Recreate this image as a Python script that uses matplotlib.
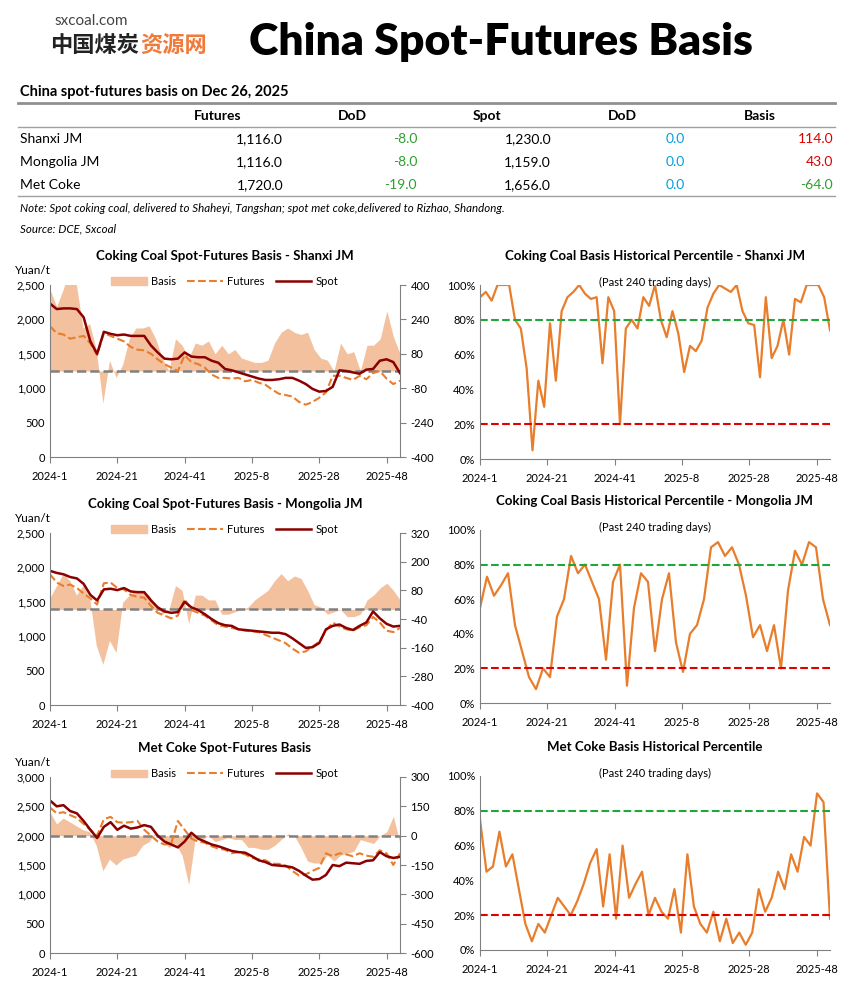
import numpy as np
import matplotlib
matplotlib.use("Agg")
import matplotlib.pyplot as plt
from matplotlib.lines import Line2D
from matplotlib.patches import Patch

plt.rcParams['font.family'] = ['Lato', 'Noto Sans CJK SC', 'DejaVu Sans']

W, H = 850, 985
fig = plt.figure(figsize=(W/100, H/100), dpi=100)

def ax_px(x0, y0, x1, y1):
    return fig.add_axes([x0/W, 1-y1/H, (x1-x0)/W, (y1-y0)/H])

def T(x, y, s, **kw):
    fig.text(x/W, 1-y/H, s, **kw)

# ---------------- data ----------------
tick_labels = ["2024-1", "2024-21", "2024-41", "2025-8", "2025-28", "2025-48"]
tick_weeks = [0, 20, 40, 60, 80, 100]
last_week = 104

table_rows = ["Shanxi JM", "Mongolia JM", "Met Coke"]
table_futures = [1116.0, 1116.0, 1720.0]
table_fut_dod = [-8.0, -8.0, -19.0]
table_spot = [1230.0, 1159.0, 1656.0]
table_spot_dod = [0.0, 0.0, 0.0]
table_basis = [114.0, 43.0, -64.0]

sx_spot = [2230,2150,2160,2160,2150,2030,1680,1500,1820,1790,1770,1780,1760,1760,1760,1620,1520,1430,1420,1430,1520,1460,1450,1450,1400,1370,1280,1260,1230,1200,1170,1140,1120,1120,1130,1150,1150,1110,1060,990,950,960,1020,1260,1250,1230,1210,1270,1280,1400,1420,1380,1220]
sx_fut = [1900,1800,1780,1720,1740,1760,1650,1480,1800,1760,1720,1680,1600,1560,1550,1500,1420,1350,1300,1250,1480,1380,1350,1300,1200,1150,1150,1140,1150,1100,1120,1080,1050,980,920,900,880,800,760,800,860,940,1180,1180,1150,1120,1180,1130,1220,1250,1140,1060,1110]
sx_basis = [380,300,380,480,400,200,220,100,-150,50,-30,30,150,200,200,210,150,60,0,150,120,60,130,120,140,80,120,80,100,60,50,40,40,50,130,180,200,180,170,180,100,60,50,0,130,80,90,0,120,120,150,280,160,80]

mg_spot = [1950,1920,1900,1860,1840,1760,1600,1520,1680,1690,1670,1700,1650,1640,1640,1520,1420,1360,1340,1350,1500,1420,1380,1320,1250,1190,1160,1150,1100,1090,1080,1070,1060,1050,1050,1030,970,900,830,840,900,1100,1150,1170,1120,1090,1150,1200,1360,1260,1180,1140,1150]
mg_fut = [1900,1780,1730,1750,1700,1620,1550,1460,1770,1780,1700,1680,1600,1570,1560,1440,1340,1300,1260,1300,1540,1380,1340,1300,1230,1160,1140,1120,1100,1080,1070,1060,1020,980,940,900,820,760,780,850,920,1080,1200,1140,1100,1080,1130,1160,1280,1200,1080,1060,1120]
mg_basis = [50,100,150,120,60,100,50,-150,-230,-130,-180,30,60,80,80,60,20,-20,0,100,80,-60,60,60,40,40,-20,-20,-10,0,10,40,60,80,120,150,120,140,130,80,20,10,-20,-10,0,-30,-30,-20,40,60,90,110,80,40]

mc_spot = [2600,2500,2520,2420,2380,2250,2100,1960,2150,2230,2100,2170,2120,2140,2180,2150,2000,1900,1850,1800,1900,2050,1950,1900,1850,1820,1780,1740,1720,1710,1650,1580,1550,1500,1490,1480,1460,1400,1320,1250,1260,1330,1500,1480,1540,1530,1520,1570,1580,1720,1650,1620,1640]
mc_fut = [2480,2380,2400,2350,2300,2200,2100,2000,2280,2320,2230,2220,2230,2250,2100,2000,1900,1850,1860,2250,2100,1950,1900,1880,1820,1780,1760,1700,1720,1680,1620,1600,1580,1520,1520,1490,1400,1320,1340,1400,1450,1700,1650,1700,1680,1650,1700,1660,1640,1750,1700,1500,1700]
mc_basis = [120,60,90,70,50,30,20,-50,-180,-120,-150,-120,-110,-100,-50,-30,20,-20,-60,-40,-100,-250,-10,-20,0,-30,-20,-10,-20,-20,-60,-60,-70,-70,-50,-20,10,0,-60,-130,-140,-140,-100,-130,-100,-90,-80,-20,-30,-40,0,20,100,-40]

sx_pct = [93,96,91,100,100,100,80,75,52,5,45,30,78,45,85,93,96,100,95,92,93,55,93,85,20,75,80,75,93,88,100,80,70,85,72,50,65,62,68,87,95,100,98,96,100,85,78,77,47,93,58,65,80,60,92,90,100,100,100,93,74]
mg_pct = [55,73,62,68,75,45,30,15,8,20,15,50,60,85,75,80,70,60,25,70,80,10,55,75,70,30,60,75,35,18,40,45,60,90,93,85,90,80,62,38,45,30,45,20,65,88,80,93,90,60,45]
mc_pct = [75,45,48,68,48,55,35,15,5,15,10,20,30,25,20,28,38,50,58,25,55,18,60,30,38,45,20,30,22,18,35,10,55,25,15,10,22,5,18,4,10,3,10,35,22,30,45,35,55,45,65,60,90,85,18]

ORANGE = "#E87D2B"
DARKRED = "#8B0000"
FILL = "#F4C19E"
GREY = "#808080"

# ---------------- header ----------------
T(54, 21, "sxcoal.com", fontsize=11, color="#444444", va="center")
T(50, 45, "中国煤炭", fontsize=16, fontweight="bold", color="#222222", va="center", family=['Noto Sans CJK SC'])
T(140, 45, "资源网", fontsize=16, fontweight="bold", color="#F07A3A", va="center", family=['Noto Sans CJK SC'])
T(501, 42, "China Spot-Futures Basis", fontsize=32, fontweight="heavy", ha="center", va="center")

# ---------------- table ----------------
T(20, 92, "China spot-futures basis on Dec 26, 2025", fontsize=10.5, fontweight="bold", va="center")
lax = fig.add_axes([0, 0, 1, 1]); lax.set_xlim(0, W); lax.set_ylim(H, 0); lax.axis("off")
lax.plot([18, 835], [103, 103], color="#909090", lw=2)
lax.plot([18, 835], [127, 127], color="#A0A0A0", lw=1)
lax.plot([18, 835], [196, 196], color="#A0A0A0", lw=1)
heads = [("Futures", 218), ("DoD", 352), ("Spot", 487), ("DoD", 622), ("Basis", 760)]
for s, x in heads:
    T(x, 116, s, fontsize=10, fontweight="bold", ha="center", va="center")
def col(v):
    return "#2E9E2E" if v < 0 else ("#00A0E0" if v == 0 else "#E00000")
for i, name in enumerate(table_rows):
    y = 139 + i*23
    T(20, y, name, fontsize=10, va="center")
    T(283, y, f"{table_futures[i]:,.1f}", fontsize=10, ha="right", va="center")
    T(417, y, f"{table_fut_dod[i]:,.1f}", fontsize=10, ha="right", va="center", color=col(table_fut_dod[i]))
    T(551, y, f"{table_spot[i]:,.1f}", fontsize=10, ha="right", va="center")
    T(685, y, f"{table_spot_dod[i]:,.1f}", fontsize=10, ha="right", va="center", color=col(table_spot_dod[i]))
    bc = "#E00000" if table_basis[i] > 0 else "#2E9E2E"
    T(833, y, f"{table_basis[i]:,.1f}", fontsize=10, ha="right", va="center", color=bc)
T(20, 209, "Note: Spot coking coal, delivered to Shaheyi, Tangshan; spot met coke,delivered to Rizhao, Shandong.", fontsize=8.3, style="italic", va="center")
T(20, 229, "Source: DCE, Sxcoal", fontsize=8.3, style="italic", va="center")

def xs(arr):
    return np.linspace(0, last_week, len(arr))

def style_x(ax):
    ax.set_xlim(0, last_week)
    ax.set_xticks(tick_weeks)
    ax.set_xticklabels(tick_labels, fontsize=8)
    ax.tick_params(axis="x", length=4, color=GREY, pad=6)
    for s in ["top", "right"]:
        ax.spines[s].set_visible(False)
    ax.spines["left"].set_color(GREY)
    ax.spines["bottom"].set_color(GREY)

def basis_chart(box, title, spot, fut, basis, lmax, lstep, rlim, rticks):
    ax = ax_px(*box)
    ax2 = ax.twinx()
    ax2.fill_between(xs(basis), 0, basis, color=FILL, lw=0, zorder=1)
    ax2.axhline(0, color=GREY, ls="--", lw=1.8, zorder=2)
    ax2.set_ylim(*rlim)
    ax2.set_yticks(rticks)
    ax2.set_yticklabels([str(t) for t in rticks], fontsize=8)
    ax2.spines["right"].set_color(GREY)
    for s in ["top", "left", "bottom"]:
        ax2.spines[s].set_visible(False)
    ax2.tick_params(axis="y", length=4, color=GREY)
    ax.set_zorder(ax2.get_zorder()+1); ax.patch.set_visible(False)
    ax.plot(xs(fut), fut, color=ORANGE, ls="--", lw=1.5)
    ax.plot(xs(spot), spot, color=DARKRED, lw=1.8)
    ax.set_ylim(0, lmax)
    ax.set_yticks(np.arange(0, lmax+1, lstep))
    ax.set_yticklabels([f"{int(v):,}" for v in np.arange(0, lmax+1, lstep)], fontsize=8)
    ax.tick_params(axis="y", length=0)
    style_x(ax)
    ax.set_title(title, fontsize=9.5, fontweight="bold", pad=18)
    ax.text(-0.1, 1.05, "Yuan/t", transform=ax.transAxes, fontsize=8.5, va="bottom")
    handles = [Patch(color=FILL), Line2D([], [], color=ORANGE, ls="--", lw=1.5), Line2D([], [], color=DARKRED, lw=1.8)]
    ax.legend(handles, ["Basis", "Futures", "Spot"], ncol=3, loc="lower center", bbox_to_anchor=(0.5, 0.93),
              frameon=False, fontsize=8, handlelength=3.2, columnspacing=1.0, handletextpad=0.4)

def pct_chart(box, title, pct):
    ax = ax_px(*box)
    ax.plot(xs(pct), pct, color=ORANGE, lw=1.6)
    ax.axhline(80, color="#1FA83A", ls="--", lw=1.5)
    ax.axhline(20, color="#E00000", ls="--", lw=1.5)
    ax.set_ylim(0, 100)
    ax.set_yticks(range(0, 101, 20))
    ax.set_yticklabels([f"{v}%" for v in range(0, 101, 20)], fontsize=8)
    ax.tick_params(axis="y", length=0)
    style_x(ax)
    ax.set_title(title, fontsize=9.5, fontweight="bold", pad=18)
    ax.text(0.5, 1.045, "(Past 240 trading days)", transform=ax.transAxes, fontsize=8, ha="center", va="top")

basis_chart((50, 285, 400, 457), "Coking Coal Spot-Futures Basis - Shanxi JM", sx_spot, sx_fut, sx_basis,
            2500, 500, (-400, 400), [400, 240, 80, -80, -240, -400])
basis_chart((50, 533, 400, 705), "Coking Coal Spot-Futures Basis - Mongolia JM", mg_spot, mg_fut, mg_basis,
            2500, 500, (-400, 320), [320, 200, 80, -40, -160, -280, -400])
basis_chart((50, 777, 400, 953), "Met Coke Spot-Futures Basis", mc_spot, mc_fut, mc_basis,
            3000, 500, (-600, 300), [300, 150, 0, -150, -300, -450, -600])

pct_chart((480, 285, 830, 459), "Coking Coal Basis Historical Percentile - Shanxi JM", sx_pct)
pct_chart((480, 530, 830, 703), "Coking Coal Basis Historical Percentile - Mongolia JM", mg_pct)
pct_chart((480, 776, 830, 950), "Met Coke Basis Historical Percentile", mc_pct)

fig.savefig("out.png", dpi=100)
